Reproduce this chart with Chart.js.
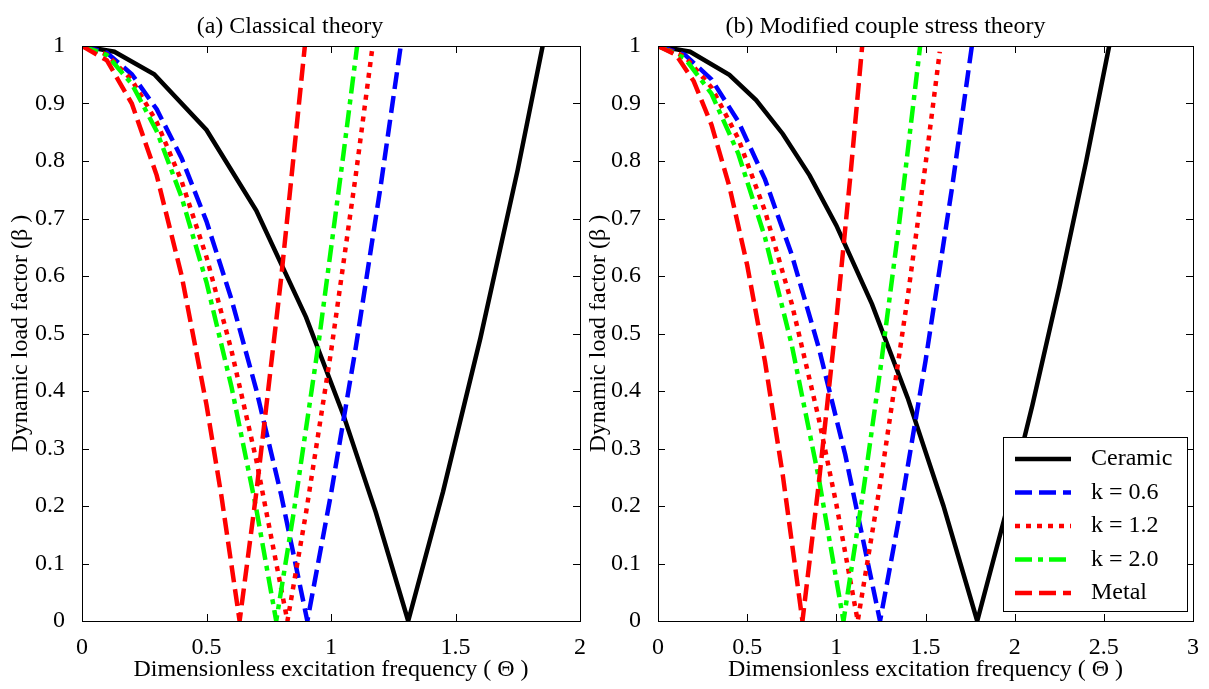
<!DOCTYPE html>
<html>
<head>
<meta charset="utf-8">
<script src="https://cdn.jsdelivr.net/npm/chart.js@4.4.0/dist/chart.umd.min.js"></script>
<style>
  html, body { margin: 0; padding: 0; background: #fff; }
  #wrap { position: relative; width: 1209px; height: 689px; overflow: hidden; }
  canvas { position: absolute; top: 0; }
</style>
</head>
<body>
<div id="wrap">
  <canvas id="chartA" width="600" height="689" style="left:0"></canvas>
  <canvas id="chartB" width="631" height="689" style="left:578px"></canvas>
</div>
<script>
// series names, in legend order
const seriesLabels = ['Ceramic', 'k = 0.6', 'k = 1.2', 'k = 2.0', 'Metal'];

// tick values and labels
const xTicksA = [0, 0.5, 1, 1.5, 2];
const xTickLabelsA = ['0', '0.5', '1', '1.5', '2'];
const xTicksB = [0, 0.5, 1, 1.5, 2, 2.5, 3];
const xTickLabelsB = ['0', '0.5', '1', '1.5', '2', '2.5', '3'];
const yTicks = [0, 0.1, 0.2, 0.3, 0.4, 0.5, 0.6, 0.7, 0.8, 0.9, 1];
const yTickLabels = ['0', '0.1', '0.2', '0.3', '0.4', '0.5', '0.6', '0.7', '0.8', '0.9', '1'];

// (a) Classical theory
const ceramicA_x = [0, 0.13, 0.29, 0.5, 0.7, 0.9, 1.05, 1.18, 1.31, 1.45, 1.6, 1.75, 1.85];
const ceramicA_y = [1, 0.99, 0.951, 0.854, 0.714, 0.528, 0.358, 0.189, 0, 0.225, 0.492, 0.785, 1.0];
const k06A_x = [0, 0.1, 0.2, 0.3, 0.4, 0.5, 0.6, 0.7, 0.8, 0.905, 1.0, 1.1, 1.2, 1.28];
const k06A_y = [1, 0.988, 0.951, 0.890, 0.805, 0.695, 0.560, 0.402, 0.219, 0, 0.221, 0.477, 0.758, 1.0];
const k12A_x = [0, 0.1, 0.2, 0.3, 0.4, 0.5, 0.6, 0.7, 0.825, 0.9, 1.0, 1.1, 1.165];
const k12A_y = [1, 0.985, 0.941, 0.868, 0.765, 0.633, 0.471, 0.280, 0, 0.189, 0.468, 0.777, 0.993];
const k20A_x = [0, 0.1, 0.2, 0.3, 0.4, 0.5, 0.6, 0.7, 0.78, 0.85, 0.95, 1.05, 1.105];
const k20A_y = [1, 0.984, 0.934, 0.852, 0.737, 0.589, 0.408, 0.195, 0, 0.188, 0.483, 0.812, 1.0];
const metalA_x = [0, 0.1, 0.2, 0.3, 0.4, 0.5, 0.56, 0.633, 0.7, 0.8, 0.895];
const metalA_y = [1, 0.975, 0.900, 0.775, 0.601, 0.376, 0.217, 0, 0.223, 0.597, 1.0];

// (b) Modified couple stress theory
const ceramicB_x = [0, 0.18, 0.4, 0.55, 0.7, 0.85, 1.0, 1.2, 1.4, 1.6, 1.79, 1.95, 2.1, 2.25, 2.4, 2.53];
const ceramicB_y = [1, 0.99, 0.950, 0.906, 0.847, 0.775, 0.688, 0.551, 0.388, 0.201, 0, 0.187, 0.376, 0.580, 0.798, 1.0];
const k06B_x = [0, 0.15, 0.3, 0.45, 0.6, 0.75, 0.9, 1.05, 1.245, 1.35, 1.5, 1.65, 1.76];
const k06B_y = [1, 0.985, 0.942, 0.869, 0.768, 0.637, 0.477, 0.289, 0, 0.176, 0.452, 0.756, 1.0];
const k12B_x = [0, 0.15, 0.3, 0.45, 0.6, 0.75, 0.9, 1.0, 1.12, 1.25, 1.4, 1.5, 1.58];
const k12B_y = [1, 0.982, 0.928, 0.839, 0.713, 0.552, 0.354, 0.203, 0, 0.246, 0.563, 0.794, 0.99];
const k20B_x = [0, 0.15, 0.3, 0.45, 0.6, 0.75, 0.9, 1.04, 1.15, 1.25, 1.35, 1.47];
const k20B_y = [1, 0.979, 0.917, 0.813, 0.667, 0.480, 0.251, 0, 0.223, 0.445, 0.685, 1.0];
const metalB_x = [0, 0.1, 0.2, 0.3, 0.4, 0.5, 0.6, 0.7, 0.81, 0.9, 1.0, 1.08, 1.145];
const metalB_y = [1, 0.985, 0.939, 0.863, 0.756, 0.619, 0.451, 0.253, 0, 0.235, 0.524, 0.778, 1.0];

// line styles per series
const lineColors = ['#000000', '#0000ff', '#ff0000', '#00ff00', '#ff0000'];
const lineDashes = [[], [17, 7], [5, 6], [17, 6, 5, 6], [17, 7]];
const lineWidth = 4.5;
const fontFamily = '"Liberation Serif", "Times New Roman", serif';

function toPoints(xs, ys) {
    return xs.map((x, i) => ({ x: x, y: ys[i] }));
}

function buildDatasets(xsList, ysList) {
    return seriesLabels.map((label, i) => ({
        label: label,
        data: toPoints(xsList[i], ysList[i]),
        borderColor: lineColors[i],
        borderDash: lineDashes[i],
        borderWidth: lineWidth,
        borderCapStyle: 'butt',
        borderJoinStyle: 'miter',
        pointRadius: 0,
        tension: 0,
        fill: false,
        // later series drawn on top, like the original plot
        order: seriesLabels.length - i,
    }));
}

// box around the plot with inward ticks on all four sides
const boxTicks = {
    id: 'boxTicks',
    afterDatasetsDraw(chart) {
        const { ctx, chartArea: a, scales: { x, y } } = chart;
        const len = 7;
        ctx.save();
        ctx.strokeStyle = '#000';
        ctx.lineWidth = 1;
        ctx.setLineDash([]);
        ctx.beginPath();
        x.ticks.forEach((t) => {
            const px = Math.round(x.getPixelForValue(t.value)) + 0.5;
            ctx.moveTo(px, a.bottom); ctx.lineTo(px, a.bottom - len);
            ctx.moveTo(px, a.top); ctx.lineTo(px, a.top + len);
        });
        y.ticks.forEach((t) => {
            const py = Math.round(y.getPixelForValue(t.value)) + 0.5;
            ctx.moveTo(a.left, py); ctx.lineTo(a.left + len, py);
            ctx.moveTo(a.right, py); ctx.lineTo(a.right - len, py);
        });
        ctx.stroke();
        ctx.strokeRect(Math.round(a.left) + 0.5, Math.round(a.top) + 0.5,
            Math.round(a.width), Math.round(a.height));
        ctx.restore();
    }
};

// legend box inside the lower right of the plot
const insideLegend = {
    id: 'insideLegend',
    afterDraw(chart, args, opts) {
        if (!opts.show) return;
        const { ctx, chartArea: a } = chart;
        const w = 184, h = 174;
        const left = a.right - 6 - w;
        const top = a.bottom - 10 - h;
        ctx.save();
        ctx.fillStyle = '#fff';
        ctx.fillRect(left, top, w, h);
        ctx.strokeStyle = '#000';
        ctx.lineWidth = 1;
        ctx.strokeRect(Math.round(left) + 0.5, Math.round(top) + 0.5, w, h);
        ctx.font = '24px ' + fontFamily;
        ctx.textBaseline = 'middle';
        chart.data.datasets.forEach((ds, i) => {
            const yy = top + 22 + i * 33.5;
            ctx.beginPath();
            ctx.setLineDash(ds.borderDash);
            ctx.lineWidth = ds.borderWidth;
            ctx.strokeStyle = ds.borderColor;
            ctx.lineCap = 'butt';
            ctx.moveTo(left + 12, yy);
            ctx.lineTo(left + 68, yy);
            ctx.stroke();
            ctx.setLineDash([]);
            ctx.fillStyle = '#000';
            ctx.fillText(ds.label, left + 88, yy);
        });
        ctx.restore();
    }
};

function makeChart(canvasId, titleText, xMax, xTicks, xTickLabels, xsList, ysList, yAxisWidth, padRight, showLegend) {
    const canvas = document.getElementById(canvasId);
    return new Chart(canvas.getContext('2d'), {
        type: 'line',
        data: { datasets: buildDatasets(xsList, ysList) },
        options: {
            responsive: false,
            animation: false,
            layout: { padding: { left: 0, right: padRight, top: 0, bottom: 0 } },
            plugins: {
                legend: { display: false },
                tooltip: { enabled: false },
                title: {
                    display: true,
                    text: titleText,
                    color: '#000',
                    font: { family: fontFamily, size: 24, weight: 'normal' },
                    padding: { top: 12, bottom: 5.2 },
                },
                insideLegend: { show: showLegend },
            },
            scales: {
                x: {
                    type: 'linear',
                    min: 0,
                    max: xMax,
                    afterBuildTicks: (scale) => { scale.ticks = xTicks.map((v) => ({ value: v })); },
                    afterFit: (scale) => { scale.height = 68; },
                    grid: { display: false },
                    border: { display: false },
                    ticks: {
                        color: '#000',
                        padding: 4,
                        maxRotation: 0,
                        autoSkip: false,
                        font: { family: fontFamily, size: 24 },
                        callback: (value, index) => xTickLabels[index],
                    },
                    title: {
                        display: true,
                        text: 'Dimensionless excitation frequency ( \u0398 )',
                        color: '#000',
                        font: { family: fontFamily, size: 24 },
                        padding: { top: 0, bottom: 5 },
                    },
                },
                y: {
                    type: 'linear',
                    min: 0,
                    max: 1,
                    afterBuildTicks: (scale) => { scale.ticks = yTicks.map((v) => ({ value: v })); },
                    afterFit: (scale) => { scale.width = yAxisWidth; },
                    grid: { display: false },
                    border: { display: false },
                    ticks: {
                        color: '#000',
                        padding: 9,
                        autoSkip: false,
                        font: { family: fontFamily, size: 24 },
                        callback: (value, index) => yTickLabels[index],
                    },
                    title: {
                        display: true,
                        text: 'Dynamic load factor (\u03b2 )',
                        color: '#000',
                        font: { family: fontFamily, size: 24 },
                        padding: { top: 6, bottom: 0 },
                    },
                },
            },
        },
        plugins: [boxTicks, insideLegend],
    });
}

makeChart('chartA', '(a) Classical theory', 2, xTicksA, xTickLabelsA,
    [ceramicA_x, k06A_x, k12A_x, k20A_x, metalA_x],
    [ceramicA_y, k06A_y, k12A_y, k20A_y, metalA_y],
    82, 20, false);

makeChart('chartB', '(b) Modified couple stress theory', 3, xTicksB, xTickLabelsB,
    [ceramicB_x, k06B_x, k12B_x, k20B_x, metalB_x],
    [ceramicB_y, k06B_y, k12B_y, k20B_y, metalB_y],
    80, 16, true);
</script>
</body>
</html>
